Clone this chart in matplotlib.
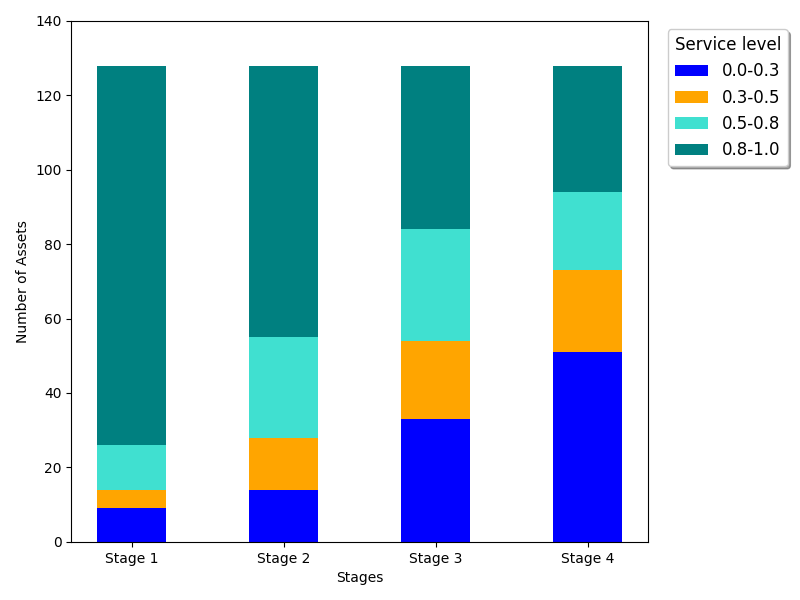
import matplotlib
matplotlib.use("Agg")
import matplotlib.pyplot as plt
import numpy as np

stages = ["Stage 1", "Stage 2", "Stage 3", "Stage 4"]
levels = ["0.0-0.3", "0.3-0.5", "0.5-0.8", "0.8-1.0"]
colors = ["blue", "orange", "turquoise", "teal"]
v_00_03 = [9, 14, 33, 51]
v_03_05 = [5, 14, 21, 22]
v_05_08 = [12, 27, 30, 21]
v_08_10 = [102, 73, 44, 34]

series = [v_00_03, v_03_05, v_05_08, v_08_10]

fig, ax = plt.subplots(figsize=(8, 6), dpi=100)
fig.subplots_adjust(left=0.089, right=0.81, top=0.965, bottom=0.097)
x = np.arange(len(stages))
bottom = np.zeros(len(stages))
for lab, col, vals in zip(levels, colors, series):
    ax.bar(x, vals, 0.45, bottom=bottom, color=col, label=lab)
    bottom += np.array(vals)

ax.set_xticks(x)
ax.set_xticklabels(stages)
ax.set_ylim(0, 140)
ax.set_xlabel("Stages")
ax.set_ylabel("Number of Assets")
leg = ax.legend(title="Service level", loc="upper left", bbox_to_anchor=(1.02, 1.0),
                fontsize=12, title_fontsize=12, shadow=True)
fig.savefig("out.png")
